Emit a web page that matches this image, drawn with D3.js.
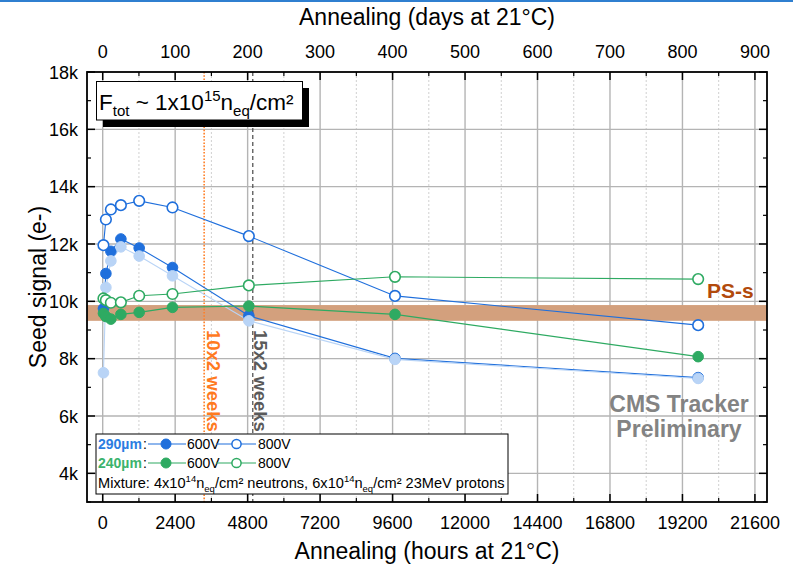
<!DOCTYPE html>
<html><head><meta charset="utf-8">
<script src="https://cdn.jsdelivr.net/npm/d3@7"></script>
<style>
html,body{margin:0;padding:0;background:#fff;}
text{font-family:"Liberation Sans",Arial,Helvetica,sans-serif;}
</style></head>
<body>
<svg id="chart" width="793" height="568"></svg>
<script>
// ---- data ----
const hours      = [25, 106, 271, 602, 1208, 2311, 4840, 9680, 19720];
const s290_600   = [9750, 10970, 11745, 12175, 11860, 11180, 9495, 8010, 7340];
const s290_600b  = [7510, 10485, 11410, 11900, 11580, 10890, 9320, 7975, 7310];
const s290_800   = [11960, 12855, 13205, 13355, 13505, 13275, 12275, 10190, 9170];
const s240_600   = [9580, 9470, 9380, 9545, 9615, 9790, 9835, 9545, 8070];
const s240_800   = [10100, 10040, 9950, 9965, 10195, 10255, 10555, 10855, 10775];
const xTicksHours = [0, 2400, 4800, 7200, 9600, 12000, 14400, 16800, 19200, 21600];
const xTicksDays  = [0, 100, 200, 300, 400, 500, 600, 700, 800, 900];
const yTicks      = [4000, 6000, 8000, 10000, 12000, 14000, 16000, 18000];
const yTickLabels = ["4k", "6k", "8k", "10k", "12k", "14k", "16k", "18k"];
const psBand      = [9320, 9870];
const vLines      = [{h: 3360, label: "10x2 weeks"}, {h: 4970, label: "15x2 weeks"}];

const C_BLUE = "#1f6fdc", C_LBLUE = "#b9d4f6", C_GREEN = "#2eaa62";

const svg = d3.select("#chart");
const L = 87, R = 767, T = 72, B = 502;
const x = d3.scaleLinear().domain([-520, 22000]).range([L, R]);
const xd = d3.scaleLinear().domain([-520/24, 22000/24]).range([L, R]);
const y = d3.scaleLinear().domain([3000, 18000]).range([B, T]);

// top border stripe
svg.append("rect").attr("x",0).attr("y",0).attr("width",793).attr("height",2).attr("fill","#2f7fd0");

// grid
const g = svg.append("g");
const minorX = d3.range(1200, 22000, 2400);
g.selectAll(".mx").data(minorX).enter().append("line")
  .attr("x1",d=>x(d)).attr("x2",d=>x(d)).attr("y1",T).attr("y2",B)
  .attr("stroke","#d0d0d0").attr("stroke-width",1).attr("stroke-dasharray","2,2");
g.selectAll(".gx").data(xTicksHours).enter().append("line")
  .attr("x1",d=>x(d)).attr("x2",d=>x(d)).attr("y1",T).attr("y2",B)
  .attr("stroke","#b4b4b4").attr("stroke-width",1.4);
g.selectAll(".gy").data(yTicks.filter(v=>v<18000)).enter().append("line")
  .attr("x1",L).attr("x2",R).attr("y1",d=>y(d)).attr("y2",d=>y(d))
  .attr("stroke","#b4b4b4").attr("stroke-width",1.4);

// PS-s band
svg.append("rect").attr("x",L).attr("width",R-L)
  .attr("y",y(psBand[1])).attr("height",y(psBand[0])-y(psBand[1]))
  .attr("fill","#d3a07d");
svg.append("text").attr("x",707).attr("y",298).attr("font-size",21).attr("font-weight","bold")
  .attr("fill","#b24a0c").text("PS-s");

// vertical marker lines
svg.append("line").attr("x1",x(vLines[0].h)).attr("x2",x(vLines[0].h)).attr("y1",T).attr("y2",B)
  .attr("stroke","#ff7f27").attr("stroke-width",1.6).attr("stroke-dasharray","1.6,1.6");
svg.append("line").attr("x1",x(vLines[1].h)).attr("x2",x(vLines[1].h)).attr("y1",T).attr("y2",B)
  .attr("stroke","#555").attr("stroke-width",1.3).attr("stroke-dasharray","4,3");
svg.append("text").attr("transform",`translate(${x(vLines[0].h)+3},330) rotate(90)`)
  .attr("font-size",18.5).attr("font-weight","bold").attr("fill","#ff7a1f").text(vLines[0].label);
svg.append("text").attr("transform",`translate(${x(vLines[1].h)+1},330) rotate(90)`)
  .attr("font-size",18.5).attr("font-weight","bold").attr("fill","#5a5a5a").text(vLines[1].label);

// series
const series = [
  {v: s290_600, c: C_BLUE, fill: C_BLUE},
  {v: s290_600b, c: C_LBLUE, fill: C_LBLUE},
  {v: s290_800, c: C_BLUE, fill: "#fff"},
  {v: s240_800, c: C_GREEN, fill: "#fff"},
  {v: s240_600, c: C_GREEN, fill: C_GREEN},
];
const line = d3.line().x(d=>x(d[0])).y(d=>y(d[1]));
series.forEach(s=>{
  const pts = hours.map((h,i)=>[h, s.v[i]]);
  svg.append("path").attr("d",line(pts)).attr("fill","none").attr("stroke",s.c).attr("stroke-width",1.1);
});
series.forEach(s=>{
  const pts = hours.map((h,i)=>[h, s.v[i]]);
  svg.selectAll(null).data(pts).enter().append("circle")
    .attr("cx",d=>x(d[0])).attr("cy",d=>y(d[1])).attr("r",5.3)
    .attr("fill",s.fill).attr("stroke",s.c).attr("stroke-width",s.fill==="#fff"?1.6:1);
});

// axes ticks (inward)
const ax = svg.append("g").attr("stroke","#000");
const majorY = d3.range(4000, 18001, 2000), minorY = d3.range(3000, 18001, 2000);
majorY.forEach(v=>{ ax.append("line").attr("x1",L).attr("x2",L+8).attr("y1",y(v)).attr("y2",y(v)).attr("stroke-width",1.5);
                    ax.append("line").attr("x1",R).attr("x2",R-8).attr("y1",y(v)).attr("y2",y(v)).attr("stroke-width",1.5);});
minorY.forEach(v=>{ ax.append("line").attr("x1",L).attr("x2",L+4).attr("y1",y(v)).attr("y2",y(v)).attr("stroke-width",1.2);
                    ax.append("line").attr("x1",R).attr("x2",R-4).attr("y1",y(v)).attr("y2",y(v)).attr("stroke-width",1.2);});
xTicksHours.forEach(v=>{ ax.append("line").attr("x1",x(v)).attr("x2",x(v)).attr("y1",B).attr("y2",B-8).attr("stroke-width",1.5);});
minorX.forEach(v=>{ ax.append("line").attr("x1",x(v)).attr("x2",x(v)).attr("y1",B).attr("y2",B-4).attr("stroke-width",1.2);});
xTicksDays.forEach(v=>{ ax.append("line").attr("x1",xd(v)).attr("x2",xd(v)).attr("y1",T).attr("y2",T+8).attr("stroke-width",1.5);});
d3.range(50, 901, 100).forEach(v=>{ ax.append("line").attr("x1",xd(v)).attr("x2",xd(v)).attr("y1",T).attr("y2",T+4).attr("stroke-width",1.2);});

// frame
svg.append("rect").attr("x",L).attr("y",T).attr("width",R-L).attr("height",B-T)
  .attr("fill","none").attr("stroke","#000").attr("stroke-width",1.8);

// tick labels
svg.selectAll(".xl").data(xTicksHours).enter().append("text")
  .attr("x",d=>x(d)).attr("y",529).attr("text-anchor","middle").attr("font-size",18).text(d=>d);
svg.selectAll(".tl").data(xTicksDays).enter().append("text")
  .attr("x",d=>xd(d)).attr("y",58).attr("text-anchor","middle").attr("font-size",18).text(d=>d);
svg.selectAll(".yl").data(yTicks).enter().append("text")
  .attr("x",78).attr("y",d=>y(d)+6.5).attr("text-anchor","end").attr("font-size",18)
  .text((d,i)=>yTickLabels[i]);

// axis titles
svg.append("text").attr("x",427).attr("y",559).attr("text-anchor","middle").attr("font-size",23).text("Annealing (hours at 21°C)");
svg.append("text").attr("x",427).attr("y",25).attr("text-anchor","middle").attr("font-size",23).text("Annealing (days at 21°C)");
svg.append("text").attr("transform","translate(46,287) rotate(-90)").attr("text-anchor","middle").attr("font-size",23).text("Seed signal (e-)");

// fluence box
svg.append("rect").attr("x",103).attr("y",88).attr("width",206).attr("height",39).attr("fill","#000");
svg.append("rect").attr("x",96.5).attr("y",81.5).attr("width",206).attr("height",38.5).attr("fill","#fff").attr("stroke","#000").attr("stroke-width",1);
const ft = svg.append("text").attr("x",99).attr("y",110).attr("font-size",22.5);
ft.append("tspan").text("F");
ft.append("tspan").attr("font-size",15).attr("dy",6).text("tot");
ft.append("tspan").attr("dy",-6).text(" ~ 1x10");
ft.append("tspan").attr("font-size",15).attr("dy",-9).text("15");
ft.append("tspan").attr("dy",9).text("n");
ft.append("tspan").attr("font-size",15).attr("dy",6).text("eq");
ft.append("tspan").attr("dy",-6).text("/cm²");

// CMS Tracker Preliminary
svg.append("text").attr("x",679).attr("y",412).attr("text-anchor","middle").attr("font-size",23).attr("font-weight","bold").attr("fill","#838383").text("CMS Tracker");
svg.append("text").attr("x",679).attr("y",437).attr("text-anchor","middle").attr("font-size",23).attr("font-weight","bold").attr("fill","#838383").text("Preliminary");

// legend
const lg = svg.append("g");
lg.append("rect").attr("x",96).attr("y",434).attr("width",412).attr("height",60).attr("fill","#fff").attr("stroke","#000").attr("stroke-width",1);
function legRow(yb, label, col) {
  lg.append("text").attr("x",98).attr("y",yb).attr("font-size",14).attr("font-weight","bold").attr("fill",col==="#1f6fdc"?"#2a7de1":"#3bb36d").text(label);
  lg.append("text").attr("x",143).attr("y",yb).attr("font-size",14).text(":");
  const cy = yb-5;
  lg.append("line").attr("x1",148).attr("x2",186).attr("y1",cy).attr("y2",cy).attr("stroke",col).attr("stroke-width",1.2);
  lg.append("circle").attr("cx",166).attr("cy",cy).attr("r",5).attr("fill",col).attr("stroke",col);
  lg.append("text").attr("x",187).attr("y",yb).attr("font-size",14).text("600V");
  lg.append("line").attr("x1",216).attr("x2",256).attr("y1",cy).attr("y2",cy).attr("stroke",col).attr("stroke-width",1.2);
  lg.append("circle").attr("cx",236.5).attr("cy",cy).attr("r",4.6).attr("fill","#fff").attr("stroke",col).attr("stroke-width",1.5);
  lg.append("text").attr("x",258).attr("y",yb).attr("font-size",14).text("800V");
}
legRow(449, "290µm", C_BLUE);
legRow(468, "240µm", C_GREEN);
const mt = lg.append("text").attr("x",98).attr("y",488).attr("font-size",14.6);
mt.append("tspan").text("Mixture: 4x10");
mt.append("tspan").attr("font-size",9.5).attr("dy",-6).text("14");
mt.append("tspan").attr("dy",6).text("n");
mt.append("tspan").attr("font-size",9.5).attr("dy",4).text("eq");
mt.append("tspan").attr("dy",-4).text("/cm² neutrons, 6x10");
mt.append("tspan").attr("font-size",9.5).attr("dy",-6).text("14");
mt.append("tspan").attr("dy",6).text("n");
mt.append("tspan").attr("font-size",9.5).attr("dy",4).text("eq");
mt.append("tspan").attr("dy",-4).text("/cm² 23MeV protons");
</script>
</body></html>
